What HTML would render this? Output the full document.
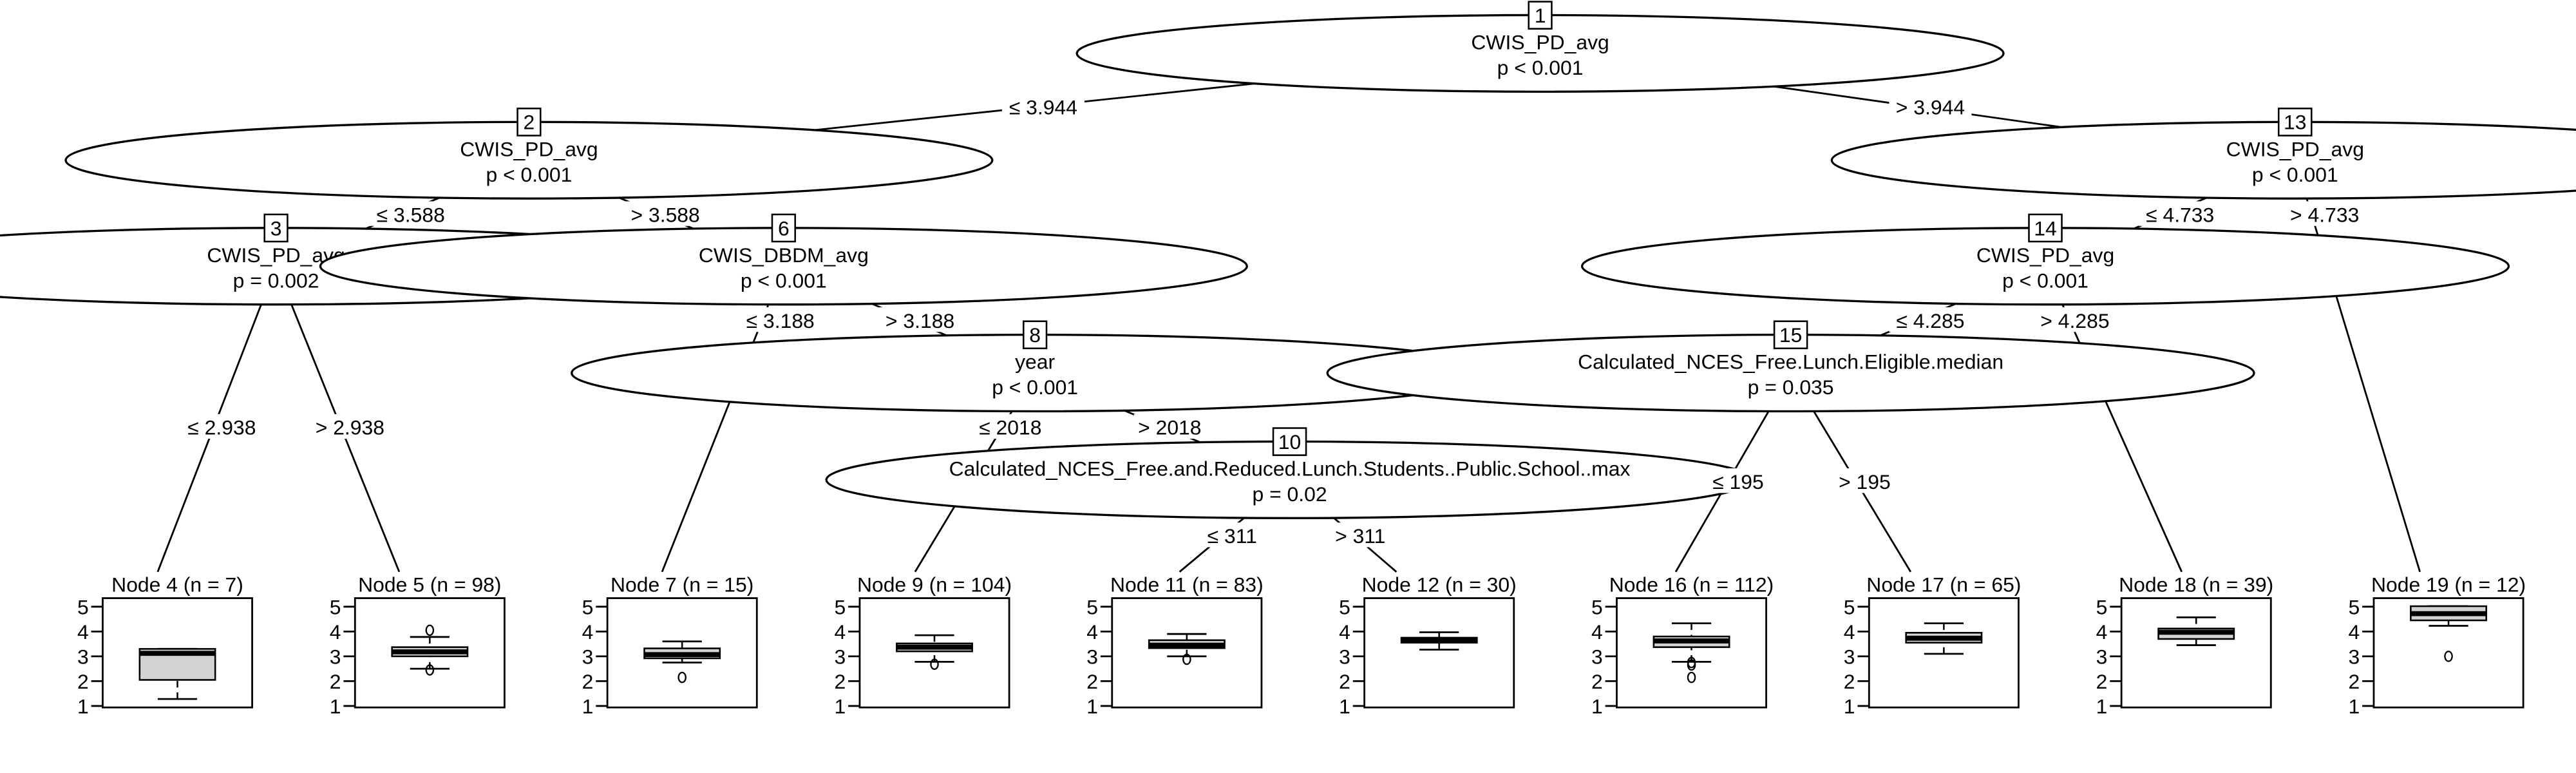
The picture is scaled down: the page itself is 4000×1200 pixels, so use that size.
<!DOCTYPE html>
<html><head><meta charset="utf-8"><style>
html,body{margin:0;padding:0;background:#fff;}
svg{display:block;}
text{font-family:"Liberation Sans",sans-serif;fill:#000;}
</style></head>
<body>
<svg id="chart" width="4000" height="1200" viewBox="0 0 1568 470.4" preserveAspectRatio="none" xmlns="http://www.w3.org/2000/svg">
<g id="edges"></g>
<g id="nodes"></g>
<g id="labels"></g>
<g id="panels"></g>
</svg>
<script>
// inner nodes: id, var, p, cx, cy
const innerIds = [1,2,13,3,6,14,8,15,10];
const innerVars = ["CWIS_PD_avg","CWIS_PD_avg","CWIS_PD_avg","CWIS_PD_avg","CWIS_DBDM_avg","CWIS_PD_avg","year","Calculated_NCES_Free.Lunch.Eligible.median","Calculated_NCES_Free.and.Reduced.Lunch.Students..Public.School..max"];
const innerP = ["p < 0.001","p < 0.001","p < 0.001","p = 0.002","p < 0.001","p < 0.001","p < 0.001","p = 0.035","p = 0.02"];
const innerX = [937.5,322,1397,168,477,1245,630,1090,785];
const innerY = [32.5,97.5,97.5,162,162,162,227,227,292];
// terminal nodes
const termIds = [4,5,7,9,11,12,16,17,18,19];
const termN = [7,98,15,104,83,30,112,65,39,12];
const termEdgeX = [96,243,403,557,718,850,1020,1163,1328,1473];
const q1 = [2.05,3.0,2.92,3.2,3.33,3.55,3.37,3.55,3.7,4.45];
const med = [3.12,3.18,3.07,3.37,3.45,3.68,3.62,3.73,3.97,4.72];
const q3 = [3.3,3.37,3.32,3.52,3.65,3.75,3.8,3.95,4.12,5.02];
const whLo = [1.28,2.5,2.75,2.78,3.0,3.27,2.78,3.1,3.45,4.23];
const whHi = [3.3,3.78,3.6,3.85,3.9,3.97,4.33,4.33,4.57,5.02];
const outliers = [[],[4.05,2.45],[2.15],[2.68],[2.88],[],[2.75,2.65,2.15],[],[],[3.0]];
const yTicks = [1,2,3,4,5];
// edges
const edgeFrom = [1,1,2,2,3,3,6,6,8,8,10,10,13,13,14,14,15,15];
const edgeTo = [2,13,3,6,4,5,7,8,9,10,11,12,14,19,15,18,16,17];
const edgeLab = ["≤ 3.944","> 3.944","≤ 3.588","> 3.588","≤ 2.938","> 2.938","≤ 3.188","> 3.188","≤ 2018","> 2018","≤ 311","> 311","≤ 4.733","> 4.733","≤ 4.285","> 4.285","≤ 195","> 195"];
const labX = [635,1175,250,405,135,213,475,560,615,712,750,828,1327,1415,1175,1263,1058,1135];
const labY = [65,65,130.5,130.5,260,260,195,195,260,260,326,326,130.5,130.5,195,195,293,293];

const NS="http://www.w3.org/2000/svg";
function mk(tag,attrs,parent){const e=document.createElementNS(NS,tag);for(const k in attrs)e.setAttribute(k,attrs[k]);parent.appendChild(e);return e;}
const panelW=91, panelTop=364, panelBot=430.5, yv=v=>429.6-(v-1)*15.1;
const panelCx=i=>108+i*153.6;
function pos(id){let i=innerIds.indexOf(id);if(i>=0)return [innerX[i],innerY[i]];i=termIds.indexOf(id);return [termEdgeX[i],348];}
const gE=document.getElementById('edges'),gN=document.getElementById('nodes'),gL=document.getElementById('labels'),gP=document.getElementById('panels');
edgeFrom.forEach((f,i)=>{const a=pos(f),b=pos(edgeTo[i]);
 const l=mk('line',{x1:a[0],y1:a[1],x2:b[0],y2:b[1],stroke:'#000','stroke-width':1.1},gE);
 
 
 const w=edgeLab[i].length*6.6+4;
 const r=mk('rect',{x:labX[i]-w/2,y:labY[i]-8,width:w,height:15,fill:'#fff'},gL);
 
 
 const t=mk('text',{x:labX[i],y:labY[i]+4.5,'text-anchor':'middle','font-size':12.5},gL);
 t.textContent=edgeLab[i];
 
 
});
innerIds.forEach((id,i)=>{const g=mk('g',{},gN);
 
 
 mk('ellipse',{cx:innerX[i],cy:innerY[i],rx:282,ry:23.3,fill:'#fff',stroke:'#000','stroke-width':1.3},g);
 const w=id>9?20:14;
 mk('rect',{x:innerX[i]-w/2,y:innerY[i]-31.5,width:w,height:16.5,fill:'#fff',stroke:'#000','stroke-width':1},g);
 const n=mk('text',{x:innerX[i],y:innerY[i]-18.8,'text-anchor':'middle','font-size':12.5},g);n.textContent=id;
 
 
 const v=mk('text',{x:innerX[i],y:innerY[i]-2.5,'text-anchor':'middle','font-size':12.5},g);v.textContent=innerVars[i];
 
 
 const p=mk('text',{x:innerX[i],y:innerY[i]+13,'text-anchor':'middle','font-size':12.5},g);p.textContent=innerP[i];
 
 
});
termIds.forEach((id,i)=>{const cx=panelCx(i),x0=cx-panelW/2,g=mk('g',{},gP);
 
 
 const t=mk('text',{x:cx,y:360,'text-anchor':'middle','font-size':12.5},g);t.textContent='Node '+id+' (n = '+termN[i]+')';
 
 
 mk('rect',{x:x0,y:panelTop,width:panelW,height:panelBot-panelTop,fill:'#fff',stroke:'#000','stroke-width':1.1},g);
 yTicks.forEach(v=>{mk('line',{x1:x0-7,x2:x0,y1:yv(v),y2:yv(v),stroke:'#000','stroke-width':1.1},g);
  const tt=mk('text',{x:x0-12,y:yv(v)+4.5,'text-anchor':'middle','font-size':12.5},g);tt.textContent=v;
  
  });
 const bw=23;
 mk('line',{x1:cx,x2:cx,y1:yv(whLo[i]),y2:yv(q1[i]),stroke:'#000','stroke-dasharray':'4,3'},g);
 mk('line',{x1:cx,x2:cx,y1:yv(whHi[i]),y2:yv(q3[i]),stroke:'#000','stroke-dasharray':'4,3'},g);
 mk('line',{x1:cx-12,x2:cx+12,y1:yv(whLo[i]),y2:yv(whLo[i]),stroke:'#000','stroke-width':1.1},g);
 mk('line',{x1:cx-12,x2:cx+12,y1:yv(whHi[i]),y2:yv(whHi[i]),stroke:'#000','stroke-width':1.1},g);
 const b=mk('rect',{x:cx-bw,y:yv(q3[i]),width:2*bw,height:yv(q1[i])-yv(q3[i]),fill:'#d3d3d3',stroke:'#000','stroke-width':1},g);
 
 
 mk('line',{x1:cx-bw,x2:cx+bw,y1:yv(med[i]),y2:yv(med[i]),stroke:'#000','stroke-width':3},g);
 outliers[i].forEach(o=>{const c=mk('ellipse',{cx:cx,cy:yv(o),rx:2.2,ry:3,fill:'none',stroke:'#000','stroke-width':0.9},g);
  
  });
});
</script>
</body></html>
